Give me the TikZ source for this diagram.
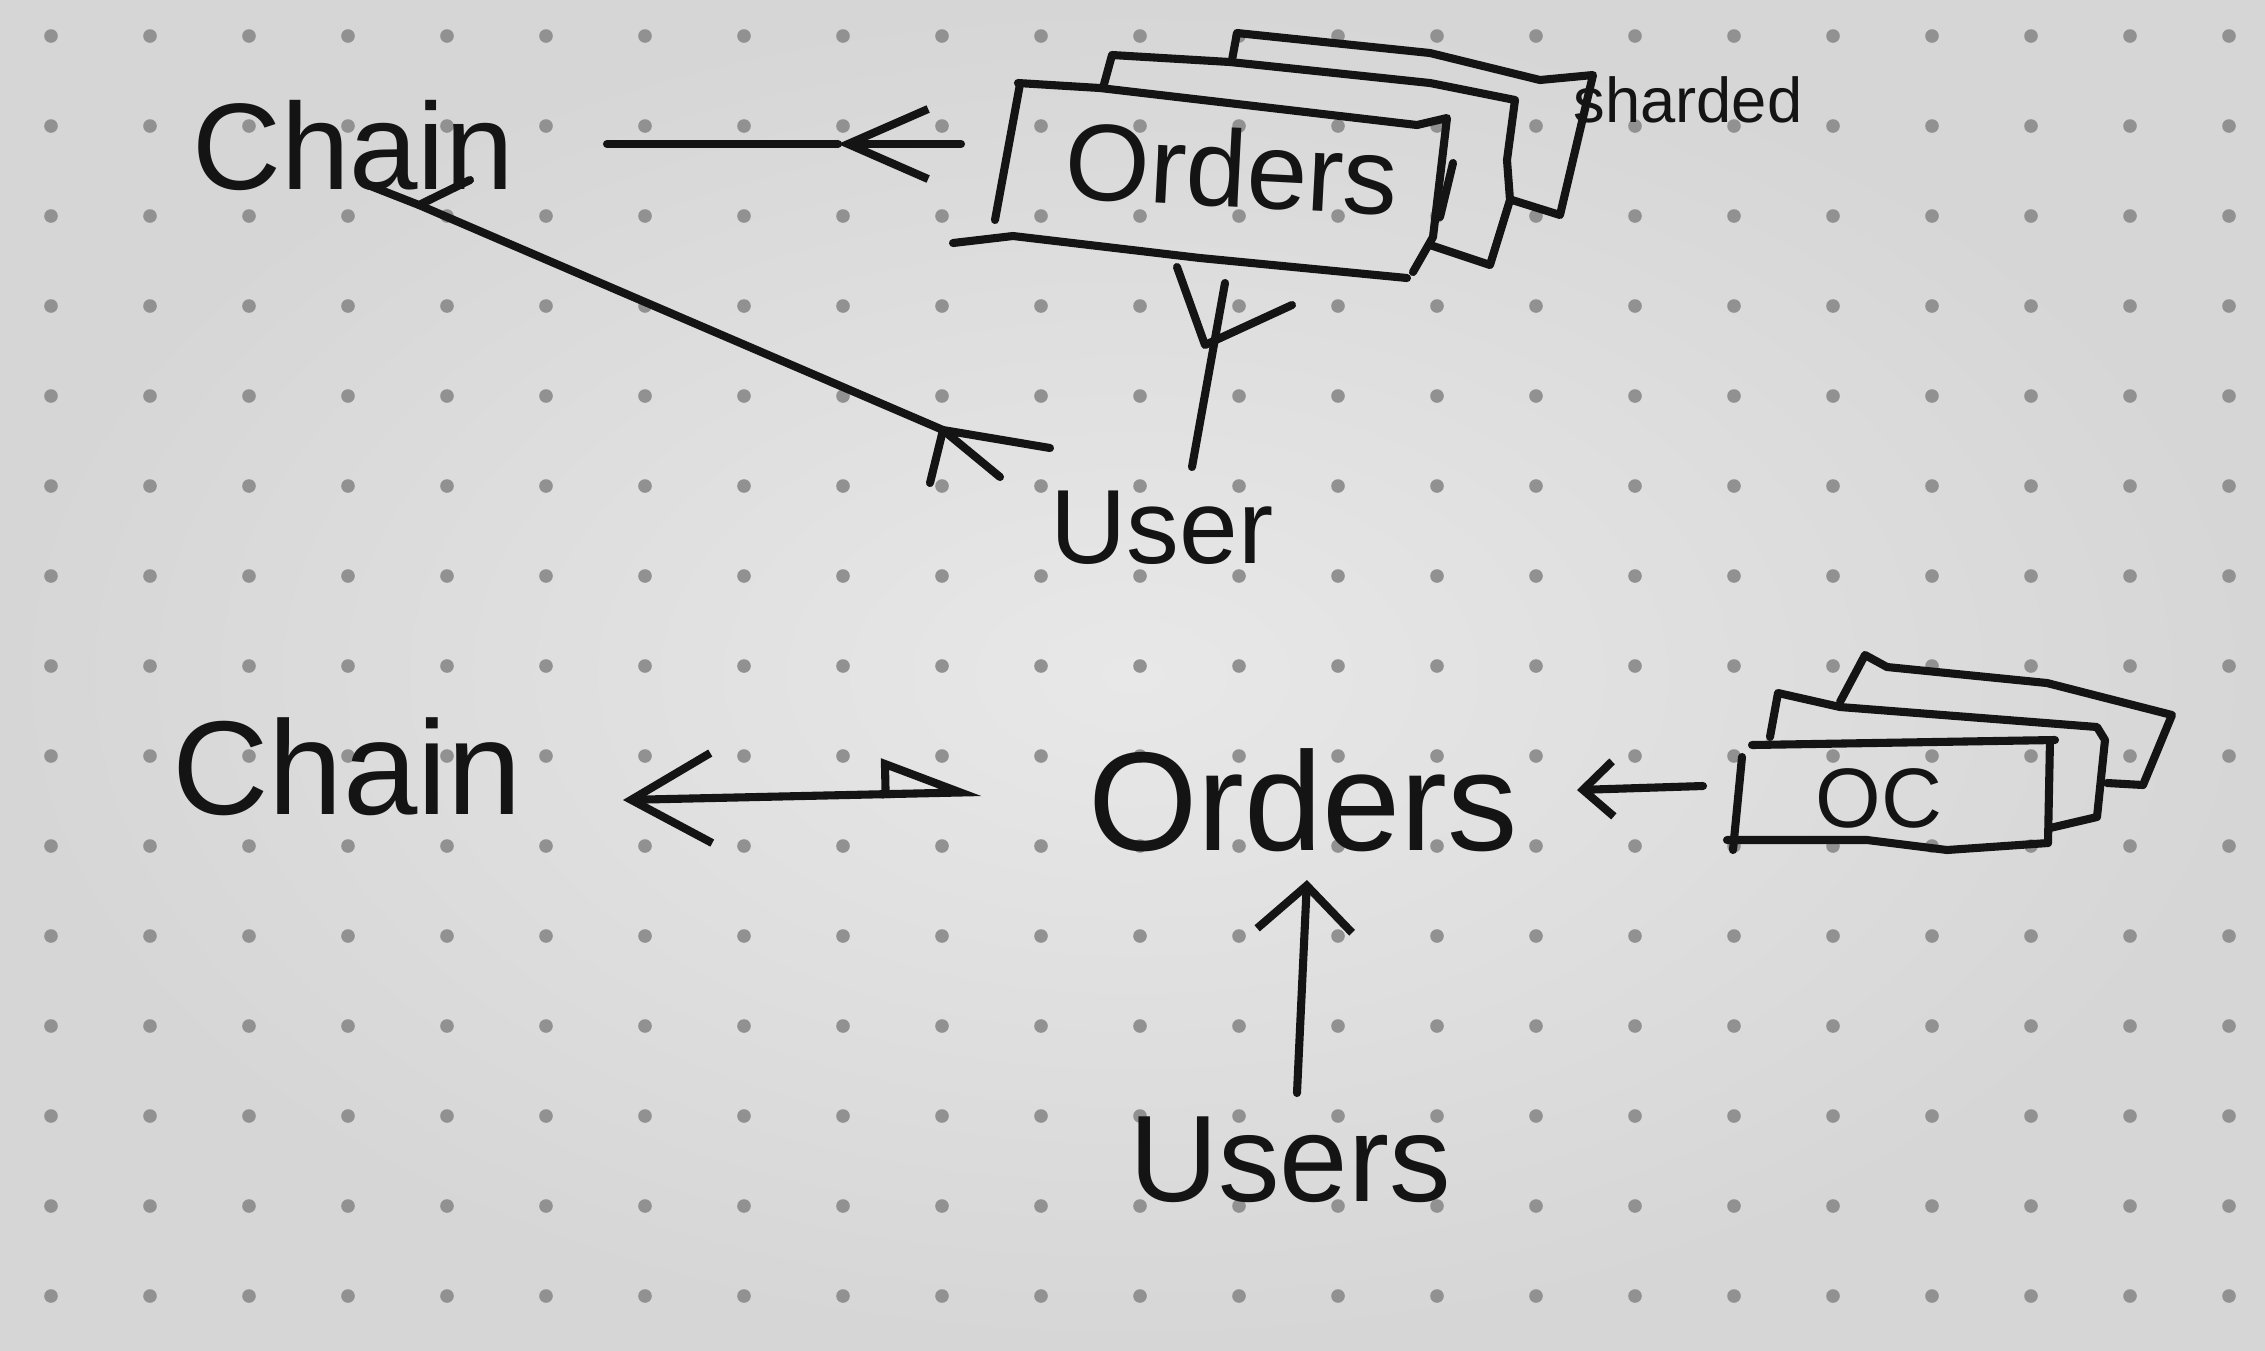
\documentclass[tikz,border=0pt]{standalone}
\usepackage{fontspec}
\setmainfont{Liberation Sans}
\usetikzlibrary{arrows.meta}
\definecolor{paper}{RGB}{232,232,232}
\definecolor{paperdark}{RGB}{214,214,214}
\definecolor{dotc}{RGB}{145,145,145}
\definecolor{ink}{RGB}{20,20,20}
\begin{document}
\begin{tikzpicture}[x=0.01cm,y=-0.01cm,
  pen/.style={draw=ink,line width=2.3pt,line cap=round,line join=round},
  lbl/.style={text=ink,inner sep=0pt,anchor=center}]
\useasboundingbox (0,0) rectangle (2265,1350);
\shade[inner color=paper,outer color=paperdark] (0,0) rectangle (2265,1350);
% dot grid
\foreach \i in {0,...,22}{
  \foreach \j in {0,...,14}{
    \fill[dotc] ({51+99*\i},{36+90*\j}) circle[radius=0.068cm];
  }
}
% ---------- top diagram ----------
\node[lbl,font=\fontsize{35}{40}\selectfont] (chainT) at (353,145) {Chain};
\node[lbl,font=\fontsize{31}{36}\selectfont,rotate=-3] (ordersT) at (1232,168) {Orders};
\node[lbl,font=\fontsize{18}{22}\selectfont] (shardedT) at (1688,100) {sharded};
\node[lbl,font=\fontsize{30}{34}\selectfont] (userT) at (1162,528) {User};

% orders stack (front to back, only visible parts)
\draw[pen] (1020,84) -- (995,220);
\draw[pen] (1018,83) -- (1100,88) -- (1417,125) -- (1447,118) -- (1433,237) -- (1413,272);
\draw[pen] (953,243) -- (1013,236) -- (1200,258) -- (1407,278);
\draw[pen] (1453,163) -- (1440,217);
\draw[pen] (1103,88) -- (1112,55) -- (1230,62) -- (1430,83) -- (1515,100) -- (1507,160) -- (1510,200) -- (1490,265) -- (1430,245);
\draw[pen] (1232,60) -- (1237,33) -- (1430,53) -- (1540,80) -- (1593,75) -- (1560,215) -- (1512,200);

% Chain <- Orders (arrow mark mid-line)
\coordinate (chainR) at (607,144);
\coordinate (ordL) at (961,144);
\coordinate (midA) at (838,144);
\draw[pen,-{Straight Barb[length=8mm,width=7mm]}] (ordL) -- (midA);
\draw[pen] (midA) -- (chainR);

% Chain -- User with crow's feet
\coordinate (chV) at (419,205);
\coordinate (chP1) at (368,185);
\coordinate (chP2) at (470,180);
\coordinate (usV) at (943,430);
\coordinate (usP1) at (1050,448);
\coordinate (usP2) at (1000,477);
\coordinate (usP3) at (930,483);
\draw[pen] (chV) -- (usV);
\draw[pen] (chP1) -- (chV) -- (chP2);
\draw[pen] (usP1) -- (usV) -- (usP2);
\draw[pen] (usV) -- (usP3);

% User -- Orders with crow's foot
\coordinate (uTop) at (1192,467);
\coordinate (oBot) at (1225,283);
\coordinate (oV) at (1205,345);
\coordinate (oP1) at (1177,267);
\coordinate (oP2) at (1292,305);
\draw[pen] (uTop) -- (oBot);
\draw[pen] (oP1) -- (oV) -- (oP2);

% ---------- bottom diagram ----------
\node[lbl,font=\fontsize{38}{44}\selectfont] (chainB) at (347,767) {Chain};
\node[lbl,font=\fontsize{40}{46}\selectfont] (ordersB) at (1303,800) {Orders};
\node[lbl,font=\fontsize{24}{28}\selectfont] (ocT) at (1879,798) {OC};
\node[lbl,font=\fontsize{35}{40}\selectfont] (usersB) at (1290,1160) {Users};

% OC stack
\draw[pen] (1752,745) -- (2055,740);
\draw[pen] (2050,740) -- (2048,843);
\draw[pen] (1727,840) -- (1867,840) -- (1947,850) -- (2048,843);
\draw[pen] (1742,757) -- (1733,850);
\draw[pen] (1770,737) -- (1778,693) -- (1840,707) -- (2097,727) -- (2105,740) -- (2097,817) -- (2050,828);
\draw[pen] (1840,702) -- (1865,655) -- (1887,667) -- (2047,683) -- (2172,715) -- (2143,785) -- (2107,783);

% Chain <-> Orders
\coordinate (cL) at (623,800);
\coordinate (oL) at (982,792);
\draw[pen,{Straight Barb[length=8mm,width=9mm]}-{Triangle[open,length=9mm,width=7mm,harpoon]}] (cL) -- (oL);

% OC -> Orders
\coordinate (ocL) at (1703,786);
\coordinate (oR) at (1577,790);
\draw[pen,-{Straight Barb[length=3mm,width=5.5mm]}] (ocL) -- (oR);

% Users -> Orders
\coordinate (usTop) at (1297,1093);
\coordinate (oB) at (1307,880);
\draw[pen,-{Straight Barb[length=4.5mm,width=9.5mm]}] (usTop) -- (oB);
\end{tikzpicture}
\end{document}
